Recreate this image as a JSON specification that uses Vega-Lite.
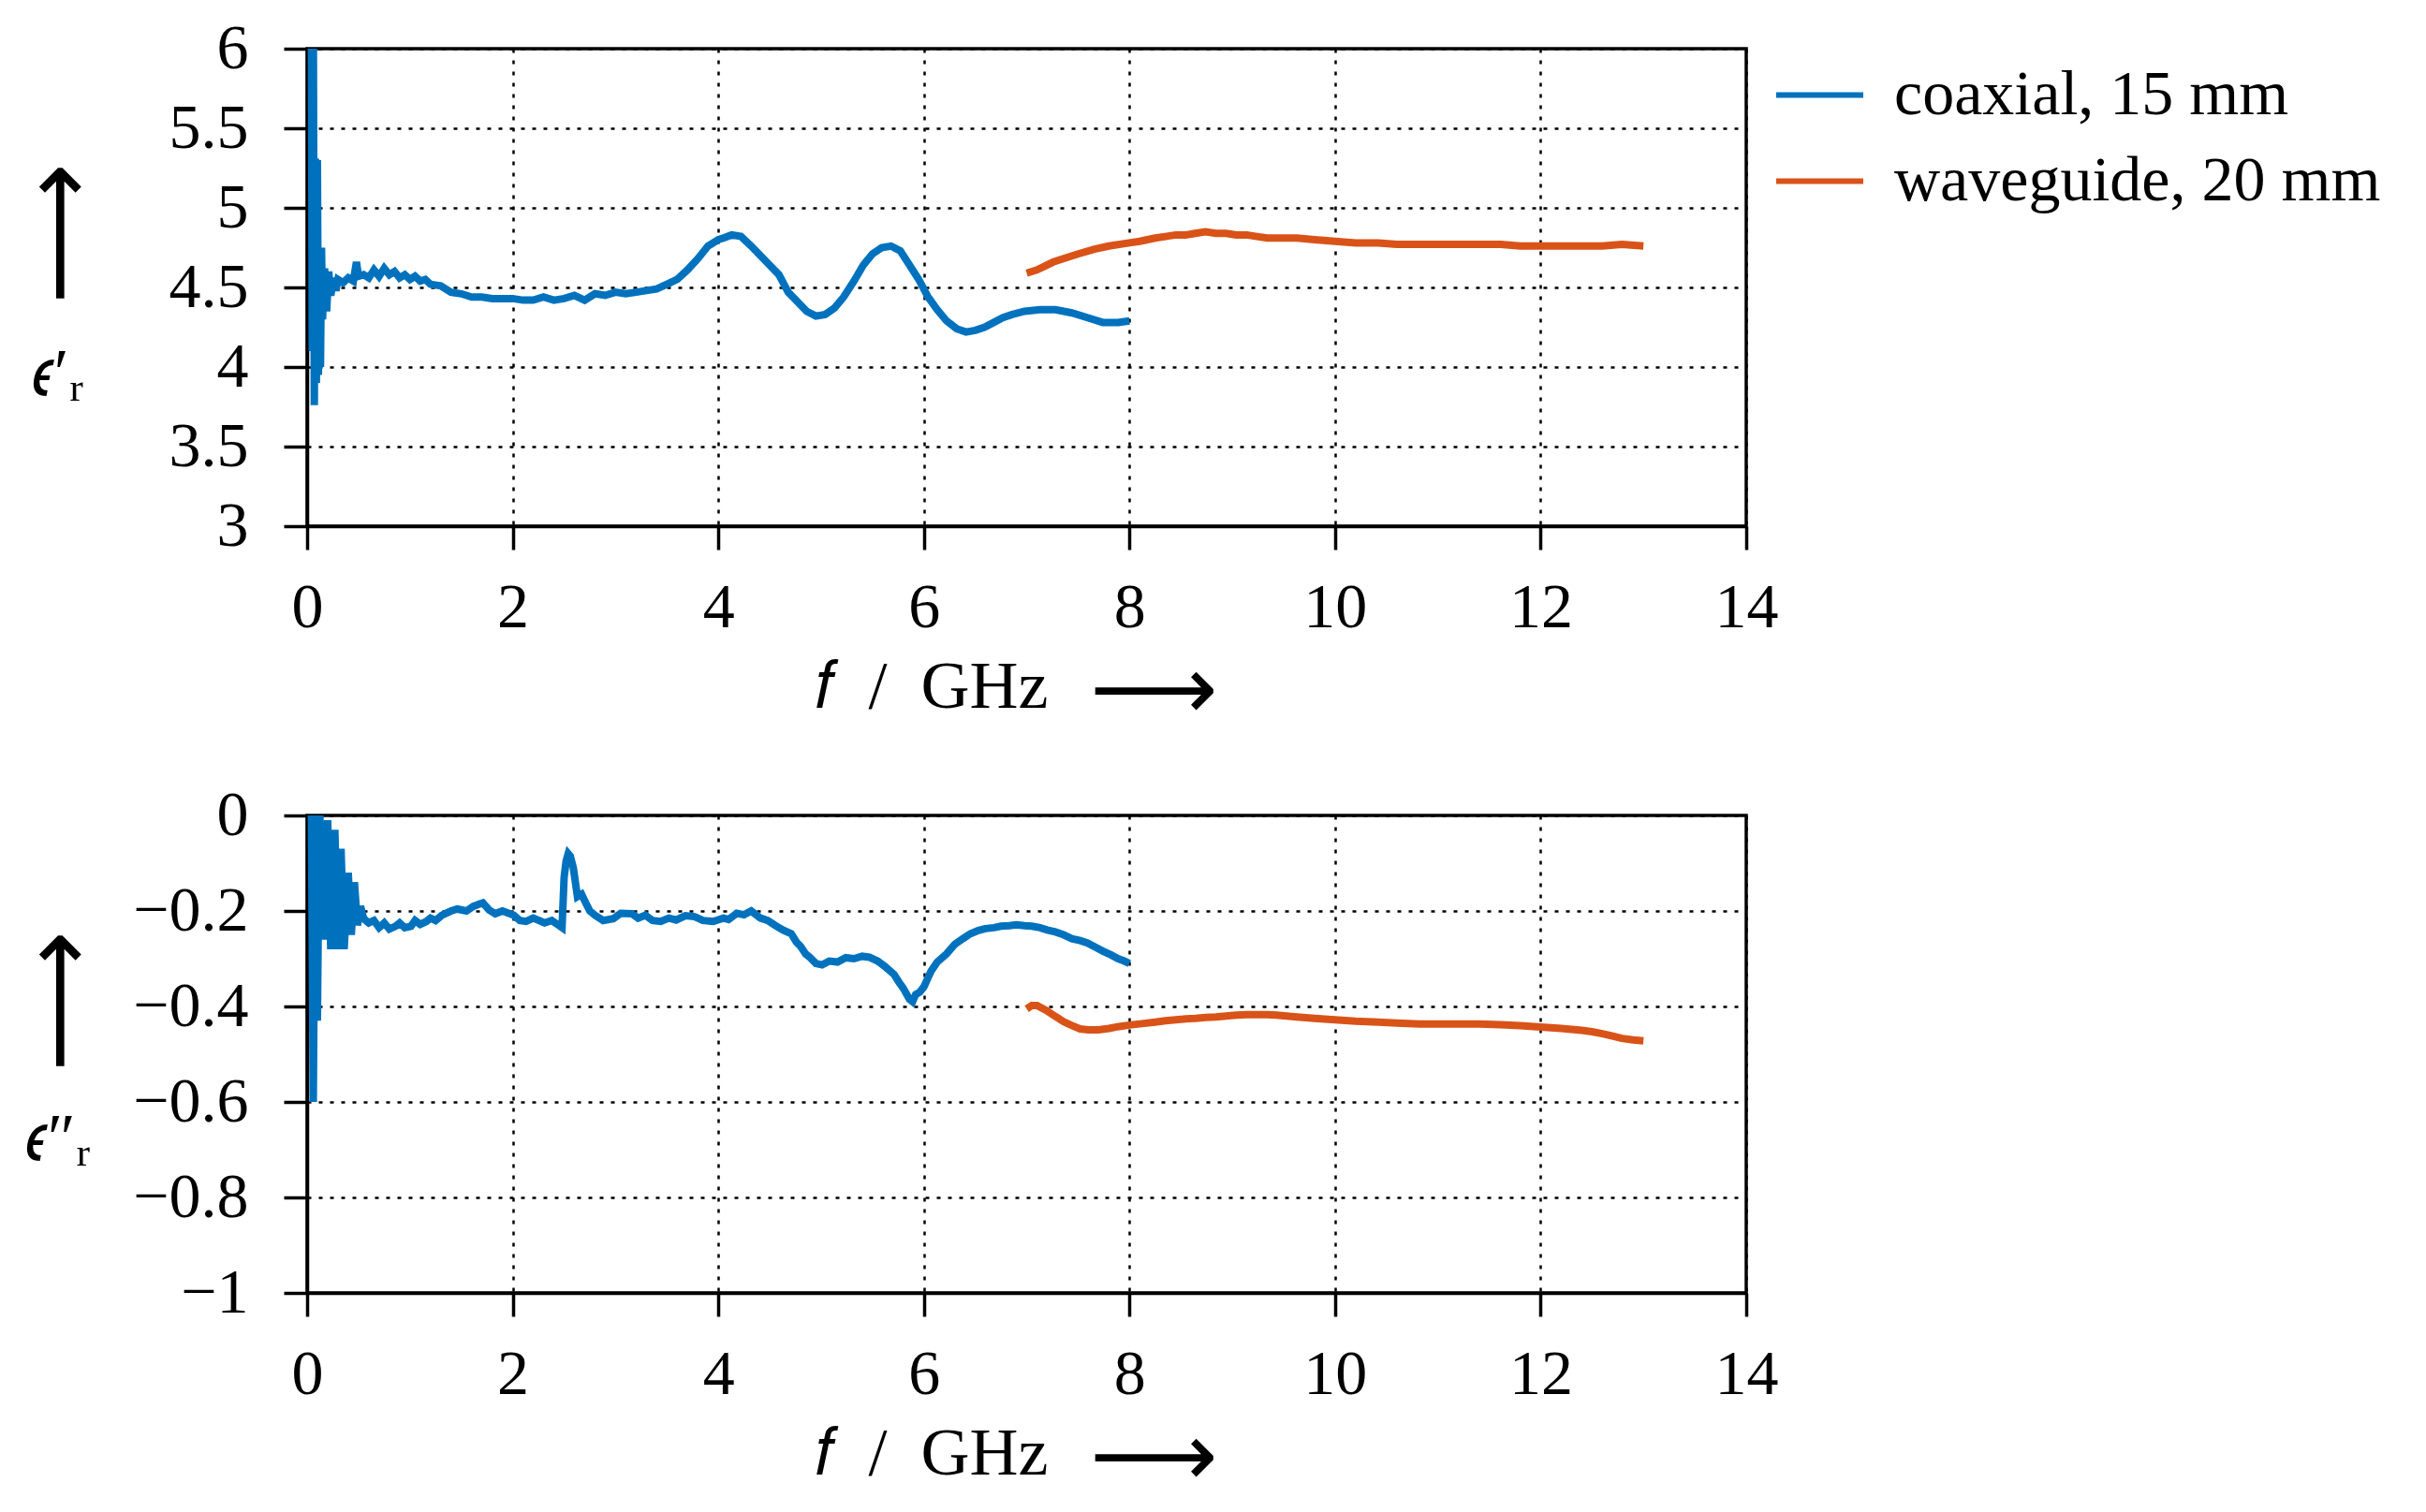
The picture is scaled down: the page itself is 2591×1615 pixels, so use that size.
{
  "$schema": "https://vega.github.io/schema/vega-lite/v6.json",
  "padding": {"top": 16, "left": 10, "right": 5, "bottom": 0},
  "background": "white",
  "spacing": 47,
  "datasets": {
    "topC": [
      {"f":0.04,"e":6.5},{"f":0.05,"e":4.1},{"f":0.06,"e":6.3},{"f":0.07,"e":3.76},{"f":0.08,"e":5.31},{"f":0.09,"e":3.9},{"f":0.10,"e":5.3},{"f":0.11,"e":3.95},{"f":0.12,"e":4.72},{"f":0.13,"e":4.0},{"f":0.14,"e":4.75},{"f":0.15,"e":4.3},{"f":0.17,"e":4.62},{"f":0.19,"e":4.35},{"f":0.21,"e":4.6},{"f":0.23,"e":4.45},{"f":0.26,"e":4.56},{"f":0.28,"e":4.48},{"f":0.30,"e":4.55},{"f":0.35,"e":4.53},{"f":0.40,"e":4.56},{"f":0.45,"e":4.54},{"f":0.48,"e":4.66},{"f":0.50,"e":4.57},{"f":0.55,"e":4.58},{"f":0.6,"e":4.56},{"f":0.65,"e":4.61},{"f":0.7,"e":4.57},{"f":0.75,"e":4.62},{"f":0.8,"e":4.58},{"f":0.85,"e":4.6},{"f":0.9,"e":4.56},{"f":0.95,"e":4.58},{"f":1.0,"e":4.55},{"f":1.05,"e":4.57},{"f":1.1,"e":4.54},{"f":1.15,"e":4.55},{"f":1.2,"e":4.52},{"f":1.3,"e":4.51},{"f":1.4,"e":4.47},{"f":1.5,"e":4.46},{"f":1.6,"e":4.44},{"f":1.7,"e":4.44},{"f":1.8,"e":4.43},{"f":1.9,"e":4.43},{"f":2.0,"e":4.43},{"f":2.1,"e":4.42},{"f":2.2,"e":4.42},{"f":2.3,"e":4.44},{"f":2.4,"e":4.42},{"f":2.5,"e":4.43},{"f":2.6,"e":4.45},{"f":2.7,"e":4.42},{"f":2.8,"e":4.46},{"f":2.9,"e":4.45},{"f":3.0,"e":4.47},{"f":3.1,"e":4.46},{"f":3.2,"e":4.47},{"f":3.3,"e":4.48},{"f":3.4,"e":4.49},{"f":3.5,"e":4.52},{"f":3.6,"e":4.55},{"f":3.7,"e":4.61},{"f":3.8,"e":4.68},{"f":3.9,"e":4.76},{"f":4.0,"e":4.8},{"f":4.05,"e":4.81},{"f":4.13,"e":4.83},{"f":4.22,"e":4.82},{"f":4.32,"e":4.76},{"f":4.41,"e":4.7},{"f":4.5,"e":4.64},{"f":4.59,"e":4.58},{"f":4.68,"e":4.47},{"f":4.77,"e":4.41},{"f":4.86,"e":4.35},{"f":4.95,"e":4.32},{"f":5.04,"e":4.33},{"f":5.13,"e":4.37},{"f":5.22,"e":4.44},{"f":5.32,"e":4.54},{"f":5.41,"e":4.64},{"f":5.5,"e":4.71},{"f":5.59,"e":4.75},{"f":5.68,"e":4.76},{"f":5.77,"e":4.73},{"f":5.86,"e":4.64},{"f":5.95,"e":4.55},{"f":6.04,"e":4.44},{"f":6.13,"e":4.36},{"f":6.22,"e":4.29},{"f":6.32,"e":4.24},{"f":6.41,"e":4.22},{"f":6.5,"e":4.23},{"f":6.59,"e":4.25},{"f":6.68,"e":4.28},{"f":6.77,"e":4.31},{"f":6.86,"e":4.33},{"f":6.98,"e":4.35},{"f":7.13,"e":4.36},{"f":7.28,"e":4.36},{"f":7.44,"e":4.34},{"f":7.59,"e":4.31},{"f":7.74,"e":4.28},{"f":7.89,"e":4.28},{"f":8.0,"e":4.29}
    ],
    "topW": [
      {"f":7.0,"e":4.59},{"f":7.1,"e":4.61},{"f":7.26,"e":4.66},{"f":7.4,"e":4.69},{"f":7.5,"e":4.71},{"f":7.66,"e":4.74},{"f":7.8,"e":4.76},{"f":8.0,"e":4.78},{"f":8.1,"e":4.79},{"f":8.25,"e":4.81},{"f":8.35,"e":4.82},{"f":8.45,"e":4.83},{"f":8.55,"e":4.83},{"f":8.64,"e":4.84},{"f":8.74,"e":4.85},{"f":8.84,"e":4.84},{"f":8.94,"e":4.84},{"f":9.04,"e":4.83},{"f":9.14,"e":4.83},{"f":9.24,"e":4.82},{"f":9.34,"e":4.81},{"f":9.43,"e":4.81},{"f":9.53,"e":4.81},{"f":9.63,"e":4.81},{"f":9.8,"e":4.8},{"f":10.0,"e":4.79},{"f":10.2,"e":4.78},{"f":10.42,"e":4.78},{"f":10.6,"e":4.77},{"f":10.82,"e":4.77},{"f":11.0,"e":4.77},{"f":11.21,"e":4.77},{"f":11.4,"e":4.77},{"f":11.61,"e":4.77},{"f":11.8,"e":4.76},{"f":12.0,"e":4.76},{"f":12.2,"e":4.76},{"f":12.4,"e":4.76},{"f":12.6,"e":4.76},{"f":12.79,"e":4.77},{"f":13.0,"e":4.76}
    ],
    "botC": [
      {"f":0.04,"e":0.05},{"f":0.06,"e":-0.6},{"f":0.08,"e":0.02},{"f":0.10,"e":-0.43},{"f":0.12,"e":0.03},{"f":0.16,"e":-0.26},{"f":0.20,"e":-0.01},{"f":0.23,"e":-0.28},{"f":0.27,"e":-0.03},{"f":0.30,"e":-0.28},{"f":0.33,"e":-0.07},{"f":0.36,"e":-0.28},{"f":0.40,"e":-0.12},{"f":0.43,"e":-0.25},{"f":0.46,"e":-0.14},{"f":0.49,"e":-0.23},{"f":0.52,"e":-0.19},{"f":0.55,"e":-0.216},{"f":0.6,"e":-0.225},{"f":0.65,"e":-0.22},{"f":0.7,"e":-0.235},{"f":0.75,"e":-0.225},{"f":0.8,"e":-0.238},{"f":0.86,"e":-0.232},{"f":0.9,"e":-0.225},{"f":0.95,"e":-0.235},{"f":1.01,"e":-0.232},{"f":1.05,"e":-0.22},{"f":1.1,"e":-0.228},{"f":1.16,"e":-0.222},{"f":1.2,"e":-0.215},{"f":1.25,"e":-0.22},{"f":1.31,"e":-0.209},{"f":1.4,"e":-0.2},{"f":1.46,"e":-0.196},{"f":1.55,"e":-0.2},{"f":1.62,"e":-0.19},{"f":1.71,"e":-0.183},{"f":1.77,"e":-0.198},{"f":1.83,"e":-0.206},{"f":1.9,"e":-0.2},{"f":2.01,"e":-0.209},{"f":2.07,"e":-0.22},{"f":2.13,"e":-0.222},{"f":2.2,"e":-0.215},{"f":2.31,"e":-0.225},{"f":2.38,"e":-0.22},{"f":2.44,"e":-0.229},{"f":2.48,"e":-0.235},{"f":2.50,"e":-0.13},{"f":2.52,"e":-0.095},{"f":2.54,"e":-0.08},{"f":2.56,"e":-0.085},{"f":2.59,"e":-0.11},{"f":2.63,"e":-0.17},{"f":2.67,"e":-0.165},{"f":2.71,"e":-0.183},{"f":2.75,"e":-0.2},{"f":2.80,"e":-0.209},{"f":2.88,"e":-0.22},{"f":2.98,"e":-0.216},{"f":3.05,"e":-0.205},{"f":3.16,"e":-0.206},{"f":3.22,"e":-0.215},{"f":3.29,"e":-0.209},{"f":3.36,"e":-0.22},{"f":3.44,"e":-0.222},{"f":3.52,"e":-0.215},{"f":3.59,"e":-0.219},{"f":3.68,"e":-0.21},{"f":3.77,"e":-0.212},{"f":3.85,"e":-0.22},{"f":3.95,"e":-0.222},{"f":4.05,"e":-0.215},{"f":4.10,"e":-0.218},{"f":4.18,"e":-0.205},{"f":4.25,"e":-0.208},{"f":4.32,"e":-0.2},{"f":4.41,"e":-0.215},{"f":4.48,"e":-0.22},{"f":4.56,"e":-0.231},{"f":4.63,"e":-0.24},{"f":4.71,"e":-0.248},{"f":4.76,"e":-0.265},{"f":4.80,"e":-0.274},{"f":4.85,"e":-0.29},{"f":4.89,"e":-0.297},{"f":4.95,"e":-0.31},{"f":5.01,"e":-0.313},{"f":5.08,"e":-0.305},{"f":5.16,"e":-0.307},{"f":5.24,"e":-0.298},{"f":5.32,"e":-0.3},{"f":5.4,"e":-0.295},{"f":5.47,"e":-0.297},{"f":5.55,"e":-0.305},{"f":5.62,"e":-0.316},{"f":5.71,"e":-0.333},{"f":5.76,"e":-0.35},{"f":5.80,"e":-0.362},{"f":5.86,"e":-0.385},{"f":5.89,"e":-0.39},{"f":5.92,"e":-0.375},{"f":5.96,"e":-0.37},{"f":6.0,"e":-0.359},{"f":6.04,"e":-0.34},{"f":6.07,"e":-0.326},{"f":6.13,"e":-0.307},{"f":6.22,"e":-0.29},{"f":6.3,"e":-0.27},{"f":6.38,"e":-0.258},{"f":6.45,"e":-0.248},{"f":6.53,"e":-0.241},{"f":6.6,"e":-0.237},{"f":6.68,"e":-0.235},{"f":6.75,"e":-0.232},{"f":6.83,"e":-0.231},{"f":6.9,"e":-0.229},{"f":6.98,"e":-0.231},{"f":7.05,"e":-0.232},{"f":7.13,"e":-0.235},{"f":7.2,"e":-0.24},{"f":7.28,"e":-0.244},{"f":7.36,"e":-0.25},{"f":7.44,"e":-0.258},{"f":7.52,"e":-0.262},{"f":7.59,"e":-0.267},{"f":7.67,"e":-0.276},{"f":7.74,"e":-0.284},{"f":7.82,"e":-0.292},{"f":7.89,"e":-0.3},{"f":7.95,"e":-0.305},{"f":8.0,"e":-0.31}
    ],
    "botW": [
      {"f":7.0,"e":-0.405},{"f":7.05,"e":-0.398},{"f":7.1,"e":-0.398},{"f":7.19,"e":-0.408},{"f":7.28,"e":-0.421},{"f":7.36,"e":-0.432},{"f":7.44,"e":-0.44},{"f":7.52,"e":-0.447},{"f":7.6,"e":-0.449},{"f":7.7,"e":-0.449},{"f":7.8,"e":-0.446},{"f":7.9,"e":-0.442},{"f":8.0,"e":-0.439},{"f":8.12,"e":-0.436},{"f":8.25,"e":-0.433},{"f":8.35,"e":-0.43},{"f":8.45,"e":-0.428},{"f":8.55,"e":-0.426},{"f":8.64,"e":-0.425},{"f":8.74,"e":-0.423},{"f":8.84,"e":-0.422},{"f":8.94,"e":-0.42},{"f":9.04,"e":-0.418},{"f":9.14,"e":-0.417},{"f":9.24,"e":-0.417},{"f":9.34,"e":-0.417},{"f":9.43,"e":-0.418},{"f":9.53,"e":-0.42},{"f":9.63,"e":-0.422},{"f":9.8,"e":-0.425},{"f":10.0,"e":-0.428},{"f":10.2,"e":-0.431},{"f":10.42,"e":-0.433},{"f":10.6,"e":-0.435},{"f":10.82,"e":-0.437},{"f":11.0,"e":-0.437},{"f":11.21,"e":-0.437},{"f":11.4,"e":-0.437},{"f":11.61,"e":-0.438},{"f":11.8,"e":-0.44},{"f":12.0,"e":-0.443},{"f":12.2,"e":-0.446},{"f":12.4,"e":-0.45},{"f":12.5,"e":-0.453},{"f":12.6,"e":-0.457},{"f":12.7,"e":-0.462},{"f":12.79,"e":-0.467},{"f":12.9,"e":-0.47},{"f":13.0,"e":-0.472}
    ]
  },
  "vconcat": [
    {
      "width": 1537,
      "height": 510,
      "resolve": {"axis": {"x": "independent", "y": "independent"}},
      "layer": [
        {"data": {"name": "topC"}, "mark": {"type": "line", "strokeWidth": 8, "clip": true},
         "encoding": {
           "x": {"field": "f", "type": "quantitative", "scale": {"domain": [0, 14], "nice": false},
                 "axis": {"values": [0, 2, 4, 6, 8, 10, 12, 14], "format": "~g", "title": "𝑓\u2002/\u2002GHz",
                          "titleX": 666, "titleY": 171, "titleAlign": "center", "titleBaseline": "middle"}},
           "y": {"field": "e", "type": "quantitative", "scale": {"domain": [3, 6], "nice": false, "zero": false},
                 "axis": {"values": [3, 3.5, 4, 4.5, 5, 5.5, 6], "format": "~g", "title": "𝜖′ᵣ",
                          "titleAngle": 0, "titleX": -266, "titleY": 347, "titleAlign": "center", "titleBaseline": "middle"}},
           "color": {"datum": "coaxial, 15 mm", "type": "nominal",
             "scale": {"domain": ["coaxial, 15 mm", "waveguide, 20 mm"], "range": ["#0072BD", "#D95319"]}}}},
        {"data": {"name": "topW"}, "mark": {"type": "line", "strokeWidth": 8, "clip": true},
         "encoding": {
           "x": {"field": "f", "type": "quantitative", "scale": {"domain": [0, 14], "nice": false},
                 "axis": {"orient": "bottom", "labels": false, "ticks": false, "domain": false, "grid": false,
                          "title": "⟶", "titleFont": "DejaVu Sans", "titleFontSize": 95, "titleX": 904, "titleY": 176, "titleAlign": "center", "titleBaseline": "middle"}},
           "y": {"field": "e", "type": "quantitative", "scale": {"domain": [3, 6], "nice": false, "zero": false},
                 "axis": {"orient": "left", "labels": false, "ticks": false, "domain": false, "grid": false,
                          "title": "⟶", "titleFont": "DejaVu Sans", "titleFontSize": 105, "titleAngle": 270, "titleX": -264, "titleY": 197, "titleAlign": "center", "titleBaseline": "middle"}},
           "color": {"datum": "waveguide, 20 mm", "type": "nominal"}}}
      ]
    },
    {
      "width": 1537,
      "height": 510,
      "resolve": {"axis": {"x": "independent", "y": "independent"}},
      "layer": [
        {"data": {"name": "botC"}, "mark": {"type": "line", "strokeWidth": 8, "clip": true},
         "encoding": {
           "x": {"field": "f", "type": "quantitative", "scale": {"domain": [0, 14], "nice": false},
                 "axis": {"values": [0, 2, 4, 6, 8, 10, 12, 14], "format": "~g", "title": "𝑓\u2002/\u2002GHz",
                          "titleX": 666, "titleY": 171, "titleAlign": "center", "titleBaseline": "middle"}},
           "y": {"field": "e", "type": "quantitative", "scale": {"domain": [-1, 0], "nice": false, "zero": false},
                 "axis": {"values": [-1, -0.8, -0.6, -0.4, -0.2, 0], "format": "~g", "title": "𝜖″ᵣ",
                          "titleAngle": 0, "titleX": -266, "titleY": 345, "titleAlign": "center", "titleBaseline": "middle"}},
           "color": {"datum": "coaxial, 15 mm", "type": "nominal"}}},
        {"data": {"name": "botW"}, "mark": {"type": "line", "strokeWidth": 8, "clip": true},
         "encoding": {
           "x": {"field": "f", "type": "quantitative", "scale": {"domain": [0, 14], "nice": false},
                 "axis": {"orient": "bottom", "labels": false, "ticks": false, "domain": false, "grid": false,
                          "title": "⟶", "titleFont": "DejaVu Sans", "titleFontSize": 95, "titleX": 904, "titleY": 176, "titleAlign": "center", "titleBaseline": "middle"}},
           "y": {"field": "e", "type": "quantitative", "scale": {"domain": [-1, 0], "nice": false, "zero": false},
                 "axis": {"orient": "left", "labels": false, "ticks": false, "domain": false, "grid": false,
                          "title": "⟶", "titleFont": "DejaVu Sans", "titleFontSize": 105, "titleAngle": 270, "titleX": -264, "titleY": 198, "titleAlign": "center", "titleBaseline": "middle"}},
           "color": {"datum": "waveguide, 20 mm", "type": "nominal"}}}
      ]
    }
  ],
  "config": {
    "font": "Liberation Serif",
    "view": {"stroke": "black", "strokeWidth": 3.5},
    "axis": {
      "domainColor": "black", "domainWidth": 3.5,
      "tickColor": "black", "tickWidth": 3.5, "tickSize": 25,
      "labelFont": "Liberation Serif", "labelFontSize": 68, "labelColor": "black",
      "titleFont": "Liberation Serif", "titleFontSize": 72, "titleFontWeight": "normal", "titleColor": "black",
      "grid": true, "gridColor": "black", "gridDash": [4, 8], "gridWidth": 2.5, "gridOpacity": 1
    },
    "axisX": {"labelPadding": 28, "labelFlush": false},
    "axisY": {"labelPadding": 38},
    "legend": {
      "title": null, "orient": "right", "offset": -7, "padding": 0,
      "symbolType": "stroke", "symbolSize": 8649, "symbolStrokeWidth": 6,
      "labelFont": "Liberation Serif", "labelFontSize": 68, "labelColor": "black",
      "labelOffset": 30, "rowPadding": 8, "labelLimit": 0
    }
  }
}
